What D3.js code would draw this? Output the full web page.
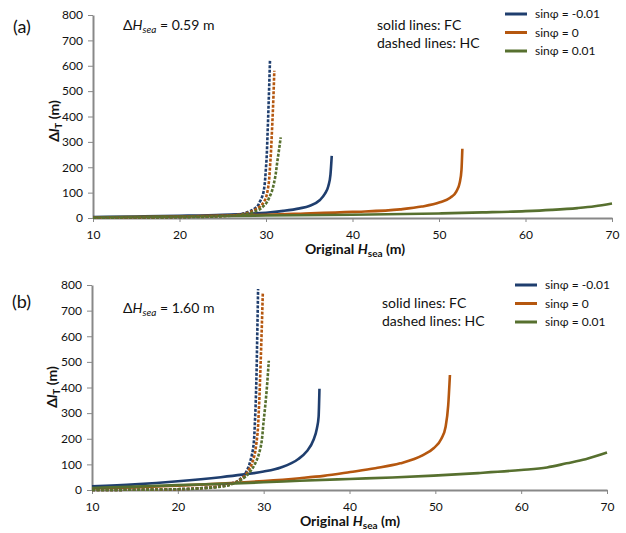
<!DOCTYPE html>
<html>
<head>
<meta charset="utf-8">
<script src="https://cdn.jsdelivr.net/npm/d3@7"></script>
<style>
  body { margin: 0; background: #fff; }
  svg { font-family: Lato, "Open Sans", sans-serif; }
</style>
</head>
<body>
<div id="chart"></div>
<script>
// --- datos ---
const xTicks = [10, 20, 30, 40, 50, 60, 70];
const yTicks = [0, 100, 200, 300, 400, 500, 600, 700, 800];
const seriesNames = ['sinφ = -0.01', 'sinφ = 0', 'sinφ = 0.01'];
const seriesColors = ['#1f3e6e', '#b5570f', '#57702f'];

// panel (a): ΔHsea = 0.59 m
const fcNegA = [[10,4],[15,6],[20,9],[25,13],[28,17],[30,21],[32,28],[33.9,38],[35,47],[36.2,70],[36.8,95],[37.2,125],[37.45,170],[37.6,245]];
const fcZeroA = [[10,2],[20,6],[30,13],[34,17],[40,24],[45.5,34],[48,45],[50.1,62],[51.3,80],[52,104],[52.4,140],[52.6,190],[52.7,273]];
const fcPosA = [[10,3],[20,6],[30,10],[40,13],[50,18],[55,22],[60,27],[63,32],[66,39],[68,46],[70,57]];
const hcNegA = [[10,1],[15,2],[20,4],[25,9],[27,15],[28,25],[28.8,40],[29.3,65],[29.7,100],[30.0,200],[30.2,350],[30.35,500],[30.46,620]];
const hcZeroA = [[10,1],[15,2],[20,4],[25,8],[27,14],[28,22],[29,38],[29.7,60],[30.2,110],[30.5,220],[30.7,350],[30.85,470],[30.96,580]];
const hcPosA = [[10,1],[15,2],[20,3],[25,7],[27,12],[28,18],[29,30],[29.8,50],[30.5,90],[31,150],[31.3,220],[31.55,280],[31.7,318]];

// panel (b): ΔHsea = 1.60 m
const fcNegB = [[10,14],[15,22],[20,34],[25,50],[27.5,60],[30,72],[32,88],[34,120],[35,150],[35.8,195],[36.2,240],[36.4,285],[36.5,395]];
const fcZeroB = [[10,6],[15,10],[20,17],[25,25],[30,35],[34.2,46],[37,55],[40.1,70],[43,85],[45.9,104],[48.5,135],[49.8,163],[50.7,200],[51.2,247],[51.5,330],[51.7,449]];
const fcPosB = [[10,8],[15,13],[20,19],[25,24],[30,30],[34.2,36],[40,43],[45,49],[49.8,56],[55,66],[60,78],[63,88],[65.3,104],[67.5,120],[70,146]];
const hcNegB = [[10,0],[15,1],[20,3],[23,8],[25,15],[26.5,28],[27.5,50],[28.1,80],[28.5,120],[28.8,170],[29.0,280],[29.15,430],[29.25,600],[29.35,784]];
const hcZeroB = [[10,0],[15,1],[20,3],[23,8],[25,14],[26.5,27],[27.6,50],[28.3,80],[28.8,120],[29.2,195],[29.45,320],[29.6,450],[29.75,600],[29.9,768]];
const hcPosB = [[10,0],[15,1],[20,3],[23,7],[25,13],[26.5,25],[27.6,45],[28.5,75],[29.1,110],[29.6,160],[30.0,270],[30.3,370],[30.6,505]];

const svg = d3.select('#chart').append('svg')
  .attr('width', 626).attr('height', 533);

function drawPanel(p) {
  const x = d3.scaleLinear().domain([10, 70]).range([p.x0, p.x1]);
  const y = d3.scaleLinear().domain([0, 800]).range([p.y0, p.y1]);
  const g = svg.append('g');

  // ejes
  const xa = g.append('g').attr('transform', `translate(0,${p.y0})`)
    .call(d3.axisBottom(x).tickValues(xTicks).tickSize(4).tickPadding(8).tickSizeOuter(0));
  const ya = g.append('g').attr('transform', `translate(${p.x0},0)`)
    .call(d3.axisLeft(y).tickValues(yTicks).tickSize(5).tickPadding(5).tickSizeOuter(0));
  [xa, ya].forEach(a => {
    a.select('.domain').attr('stroke', '#888').attr('stroke-width', 2);
    a.selectAll('.tick line').attr('stroke', '#888').attr('stroke-width', 1);
    a.selectAll('.tick text').attr('font-size', 12).attr('fill', '#111')
      .attr('font-family', 'Lato, sans-serif');
  });

  const line = d3.line().x(d => x(d[0])).y(d => y(d[1])).curve(d3.curveMonotoneX);

  // líneas sólidas (FC)
  p.fc.forEach((s, i) => {
    g.append('path').datum(s)
      .attr('fill', 'none').attr('stroke', seriesColors[i])
      .attr('stroke-width', 2.6).attr('d', line);
  });
  // líneas discontinuas (HC)
  p.hc.forEach((s, i) => {
    g.append('path').datum(s)
      .attr('fill', 'none').attr('stroke', seriesColors[i])
      .attr('stroke-width', 2.6).attr('stroke-dasharray', '3,1.5')
      .attr('d', d3.line().x(d => x(d[0])).y(d => y(d[1])).curve(d3.curveMonotoneY));
  });

  // leyenda
  seriesNames.forEach((n, i) => {
    const ly = p.legY + i * 18.5;
    g.append('line').attr('x1', p.legX).attr('x2', p.legX + 22)
      .attr('y1', ly).attr('y2', ly)
      .attr('stroke', seriesColors[i]).attr('stroke-width', 3);
    g.append('text').attr('x', p.legX + 30).attr('y', ly + 4)
      .attr('font-size', 12).attr('fill', '#111').text(n);
  });

  // textos
  g.append('text').attr('x', p.noteX).attr('y', p.noteY)
    .attr('font-size', 14).attr('fill', '#111').text('solid lines: FC');
  g.append('text').attr('x', p.noteX).attr('y', p.noteY + 18)
    .attr('font-size', 14).attr('fill', '#111').text('dashed lines: HC');

  const dh = g.append('text').attr('x', 123).attr('y', p.dhY)
    .attr('font-size', 14).attr('fill', '#111');
  dh.append('tspan').text('Δ');
  dh.append('tspan').attr('font-style', 'italic').text('H');
  dh.append('tspan').attr('font-style', 'italic').attr('font-size', 10).attr('dy', 3).text('sea');
  dh.append('tspan').attr('dy', -3).text(' = ' + p.dh + ' m');

  g.append('text').attr('x', p.tagX).attr('y', p.tagY)
    .attr('font-size', 18).attr('fill', '#111').text(p.tag);

  // título eje x
  const xt = g.append('text').attr('x', p.xtX).attr('y', p.xtY)
    .attr('text-anchor', 'middle').attr('font-size', 14).attr('font-weight', 'bold').attr('fill', '#111');
  xt.append('tspan').text('Original ');
  xt.append('tspan').attr('font-style', 'italic').text('H');
  xt.append('tspan').attr('font-size', 10).attr('dy', 3).text('sea');
  xt.append('tspan').attr('dy', -3).text(' (m)');

  // título eje y
  const yt = g.append('text')
    .attr('transform', `translate(${p.ytX},${p.ytY}) rotate(-90)`)
    .attr('text-anchor', 'middle').attr('font-size', 14).attr('font-weight', 'bold').attr('fill', '#111');
  yt.append('tspan').text('Δ');
  yt.append('tspan').attr('font-style', 'italic').text('l');
  yt.append('tspan').attr('font-size', 10).attr('dy', 3).text('T');
  yt.append('tspan').attr('dy', -3).text(' (m)');
}

drawPanel({
  x0: 93, x1: 612, y0: 218, y1: 15,
  fc: [fcNegA, fcZeroA, fcPosA], hc: [hcNegA, hcZeroA, hcPosA],
  legX: 505, legY: 14, noteX: 377, noteY: 30,
  dh: '0.59', dhY: 30, tag: '(a)', tagX: 13, tagY: 33,
  xtX: 355, xtY: 254, ytX: 59, ytY: 121
});
drawPanel({
  x0: 92, x1: 607, y0: 490, y1: 285,
  fc: [fcNegB, fcZeroB, fcPosB], hc: [hcNegB, hcZeroB, hcPosB],
  legX: 515, legY: 285, noteX: 382, noteY: 308,
  dh: '1.60', dhY: 313, tag: '(b)', tagX: 12, tagY: 308,
  xtX: 350, xtY: 526, ytX: 57, ytY: 387
});
</script>
</body>
</html>
